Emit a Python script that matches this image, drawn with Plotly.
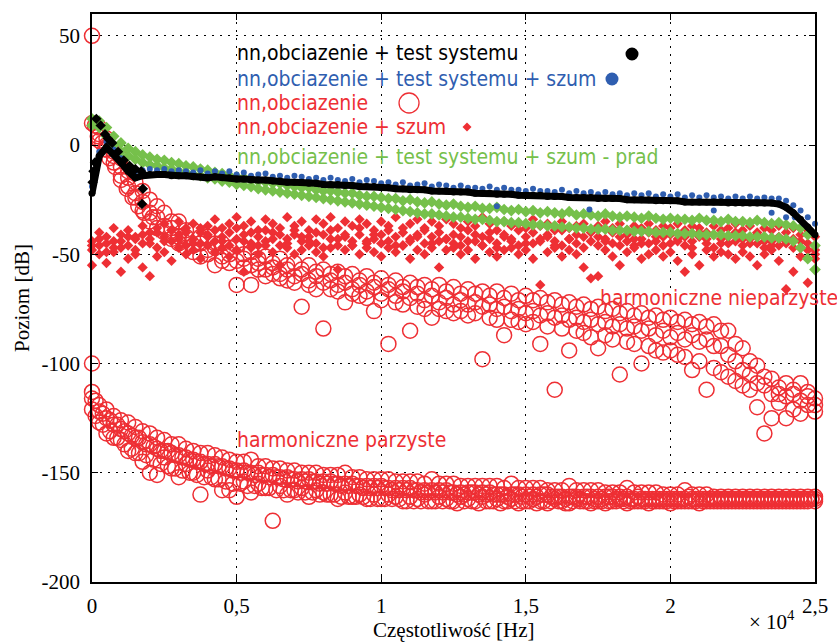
import plotly.graph_objects as go

# Frequency grids of the harmonic analysis (Hz)
FREQ = [i * 250 for i in range(101)]
FREQ_MID = [125 + i * 250 for i in range(100)]

# nn,obciazenie + test systemu (black)
BLACK = [
    -22, -5, -1, -4, -8, -12, -15, -14, -13.5, -13.5,
    -13.5, -14, -14, -14, -14.5, -14.5, -15, -14.5, -15, -15,
    -15.5, -15.5, -16, -16, -16, -16.5, -16.5, -17, -17, -17,
    -17.5, -17.5, -18, -18, -18, -18.5, -18.5, -19, -19, -19,
    -19.5, -19.5, -20, -20, -20.5, -20.5, -20.5, -21, -21, -21,
    -21.5, -21.5, -21.5, -22, -22, -22, -22.5, -22.5, -22.5, -23,
    -23, -23, -23, -23.5, -23.5, -23.5, -24, -24, -24, -24,
    -24.5, -24.5, -24.5, -24.5, -25, -25, -25, -25, -25.5, -25.5,
    -25.5, -25.5, -26, -26, -26, -26, -26, -26, -26.5, -26.5,
    -26.5, -26.5, -26.5, -26.5, -26.5, -27, -28.5, -31, -34, -37.5,
    -41,
]
BLACK_EARLY_F = [20, 50, 100, 150, 300, 450, 550, 700, 900, 1100, 1300, 1500, 1700, 1730, 1760]
BLACK_EARLY = [-17, -12, -8, 12, 9, 5, 3, 1, -3, -7, -9.5, -11, -12, -27, -20]

# nn,obciazenie + test systemu + szum (blue)
BLUE = [
    -19, -3, 1.5, -2, -6, -10, -12, -11.5, -11, -11.5,
    -11, -12, -11.5, -12, -12.5, -11.5, -13, -12, -13, -12,
    -13.5, -12.5, -14, -13.5, -13, -14.5, -14, -15, -14, -14.5,
    -15.5, -15, -16, -15, -16, -16.5, -15.5, -17, -16, -16.5,
    -17.5, -17, -18, -17, -18.5, -18, -17.5, -19, -18, -18.5,
    -19.5, -18.5, -19.5, -19.5, -20, -19, -20.5, -19.5, -20.5, -20.5,
    -21, -20, -21, -21, -21.5, -20.5, -22, -21, -22, -21.5,
    -22.5, -21.5, -22.5, -22, -23, -22, -23, -22, -23.5, -22.5,
    -23.5, -22.5, -24, -23, -24, -23, -24, -23.5, -24.5, -23.5,
    -24.5, -23.5, -24.5, -24, -24.5, -24.5, -25.5, -27.5, -30, -33,
    -36,
]
BLUE_EXTRA_F = [14000, 17200, 21500, 23500, 24000, 24300, 24600]
BLUE_EXTRA = [-28, -29.5, -30, -31, -33, -33, -36]

# nn,obciazenie + test systemu + szum - prad (green), upper and lower edge of the band
GREEN_HI = [
    12, 11, 8, 4, 1, -1.5, -3, -4.5, -5.5, -6.5,
    -7, -8, -8.5, -9.5, -10, -11, -11.5, -12.5, -13, -14,
    -14.5, -15, -16, -16.5, -17, -17.5, -17.5, -18.5, -19, -19.5,
    -19.5, -20.5, -21, -21, -21.5, -22, -22, -23, -23.5, -23.5,
    -24, -24.5, -24.5, -25.5, -25, -26, -26.5, -26, -27, -27.5,
    -27, -28, -28.5, -28, -29, -29, -28.5, -29.5, -30, -29.5,
    -30.5, -30, -31, -30.5, -31, -31.5, -30.5, -32, -31.5, -32,
    -32.5, -31.5, -32.5, -33, -32.5, -33, -33.5, -32.5, -33.5, -34,
    -33.5, -34, -34, -34.5, -33.5, -34.5, -34.5, -35, -34, -35,
    -35, -35.5, -34.5, -35.5, -36, -35.5, -36.5, -37, -38, -41,
    -46,
]
GREEN_LO = [
    9, 8, 4, 0, -3, -5, -6.5, -8, -9, -9.5,
    -10.5, -11, -12, -12.5, -13.5, -14, -15, -15.5, -16.5, -17,
    -18, -18.5, -19, -20, -20.5, -21, -21.5, -22, -22.5, -23,
    -23.5, -24, -24.5, -25, -25.5, -26, -26.5, -27, -27.5, -28,
    -28.5, -29, -29.5, -30, -30.5, -31, -31.5, -31.5, -32, -32.5,
    -33, -33, -33.5, -34, -34, -34.5, -35, -35, -35.5, -35.5,
    -36, -36.5, -36.5, -37, -37, -37.5, -37.5, -38, -38, -38.5,
    -38.5, -38.5, -39, -39, -39, -39.5, -39.5, -39.5, -40, -40,
    -40, -40.5, -40.5, -40.5, -41, -41, -41, -41, -41.5, -41.5,
    -41.5, -42, -42, -42, -42.5, -42.5, -43, -44, -47, -52,
    -57,
]

# nn,obciazenie + szum (red diamonds), four layers of the scatter cloud
SZUM_A = [
    -44, -40, -42, -38, -41, -39, -43, -37, -40, -38,
    -36, -39, -35, -38, -36, -40, -37, -34, -38, -36,
    -33, -37, -35, -39, -34, -36, -38, -33, -37, -35,
    -39, -34, -36, -33, -38, -35, -37, -34, -36, -39,
    -35, -37, -33, -38, -36, -34, -39, -35, -37, -34,
    -36, -38, -35, -37, -33, -36, -39, -35, -37, -36,
    -38, -34, -37, -36, -39, -35, -38, -37, -36, -39,
    -37, -35, -38, -36, -39, -37, -38, -36, -39, -37,
    -38, -36, -39, -37, -38, -40, -37, -39, -38, -36,
    -39, -37, -40, -38, -39, -37, -40, -38, -41, -39,
    -42,
]
SZUM_B = [
    -48, -46, -45, -47, -44, -46, -42, -45, -43, -47,
    -42, -44, -41, -46, -43, -45, -41, -44, -42, -46,
    -43, -41, -45, -42, -44, -40, -46, -43, -41, -44,
    -42, -45, -41, -43, -46, -42, -44, -41, -45, -43,
    -41, -44, -42, -46, -43, -41, -45, -42, -44, -43,
    -45, -42, -44, -41, -46, -43, -45, -42, -44, -46,
    -42, -45, -43, -41, -44, -46, -43, -45, -42, -44,
    -46, -43, -45, -42, -44, -46, -43, -45, -44, -42,
    -45, -43, -46, -44, -42, -45, -47, -43, -45, -44,
    -46, -43, -45, -47, -44, -46, -45, -43, -47, -45,
    -48,
]
SZUM_C = [
    -55, -50, -54, -49, -58, -52, -50, -56, -60, -51,
    -49, -53, -47, -50, -48, -52, -46, -49, -47, -51,
    -48, -58, -47, -50, -46, -49, -55, -47, -50, -48,
    -46, -49, -51, -47, -57, -48, -46, -50, -47, -49,
    -51, -47, -49, -46, -52, -48, -50, -47, -56, -48,
    -47, -50, -48, -52, -46, -49, -51, -48, -47, -50,
    -48, -52, -64, -49, -47, -51, -48, -50, -56, -61,
    -60, -48, -51, -55, -49, -47, -52, -50, -48, -51,
    -49, -53, -58, -50, -55, -48, -51, -49, -50, -52,
    -49, -51, -55, -50, -48, -53, -66, -58, -51, -63,
    -50,
]
SZUM_D = [
    -46, -43, -49, -44, -47, -42, -48, -41, -45, -40,
    -44, -39, -43, -40, -45, -38, -42, -39, -44, -40,
    -38, -44, -40, -46, -39, -43, -41, -45, -39, -42,
    -44, -40, -47, -39, -43, -41, -46, -38, -44, -41,
    -45, -39, -46, -40, -44, -42, -38, -45, -40, -43,
    -41, -46, -39, -44, -42, -40, -47, -41, -43, -39,
    -45, -40, -44, -42, -46, -39, -43, -41, -47, -40,
    -42, -44, -40, -46, -41, -43, -45, -40, -42, -46,
    -41, -44, -42, -47, -40, -43, -41, -45, -42, -40,
    -43, -45, -41, -44, -46, -42, -44, -47, -44, -48,
    -52,
]

# nn,obciazenie (red open circles): odd harmonics, three layers
ODD_MAIN = [
    50, 8, 3, -3, -6, -12, -17, -21, -25, -28,
    -31, -35, -35, -39, -39, -42, -42, -45, -45, -47,
    -46, -50, -49, -52, -51, -54, -52, -55, -54, -57,
    -55, -58, -57, -59, -58, -60, -59, -62, -60, -63,
    -61, -64, -62, -65, -63, -65, -64, -66, -64, -67,
    -65, -68, -66, -68, -67, -69, -67, -70, -68, -71,
    -69, -71, -70, -72, -71, -73, -72, -74, -73, -75,
    -74, -76, -75, -77, -76, -78, -77, -79, -78, -80,
    -79, -81, -80, -82, -81, -83, -82, -85, -85, -91,
    -93, -99, -101, -106, -107, -111, -109, -112, -109, -113,
    -116,
]
ODD_MID = [
    10, 5, 0, -5, -10, -15, -22, -26, -31, -33,
    -37, -38, -42, -42, -46, -45, -48, -47, -51, -50,
    -53, -52, -55, -54, -57, -56, -59, -57, -60, -59,
    -62, -60, -63, -62, -64, -63, -66, -64, -67, -65,
    -68, -66, -69, -67, -70, -68, -71, -69, -72, -70,
    -73, -71, -73, -72, -74, -73, -75, -74, -76, -75,
    -77, -76, -78, -77, -79, -78, -80, -79, -81, -80,
    -82, -81, -83, -82, -84, -83, -85, -84, -87, -85,
    -88, -86, -89, -87, -90, -89, -92, -92, -96, -99,
    -103, -105, -109, -110, -114, -114, -115, -114, -117, -115,
    -119,
]
ODD_LOW = [
    -100, 2, -2, -8, -14, -19, -24, -30, -35, -38,
    -40, -43, -45, -47, -49, -51, -50, -55, -53, -54,
    -64, -56, -64, -57, -60, -59, -61, -62, -63, -74,
    -64, -66, -84, -66, -67, -72, -68, -69, -70, -76,
    -71, -91, -72, -73, -85, -74, -75, -79, -75, -76,
    -77, -76, -78, -77, -98, -79, -80, -87, -80, -81,
    -82, -81, -91, -83, -112, -84, -94, -85, -86, -88,
    -93, -87, -89, -105, -90, -91, -100, -92, -94, -95,
    -94, -96, -97, -103, -99, -112, -102, -104, -106, -108,
    -110, -112, -120, -132, -125, -118, -125, -121, -123, -119,
    -122,
]
ODD_EARLY_F = [100, 200, 350, 450, 600, 800, 1000, 1200, 1400, 1600, 1800, 2100]
ODD_EARLY = [9, 4, 1, -2, -6, -10, -16, -20, -24, -28, -31, -33]

# nn,obciazenie (red open circles): even harmonics, five layers
EVEN_A = [
    -113, -119, -121, -124, -126, -127, -129, -131, -132, -134,
    -135, -137, -137, -139, -140, -141, -141, -142, -143, -144,
    -145, -145, -144, -147, -147, -148, -148, -149, -149, -150,
    -150, -150, -151, -151, -151, -150, -152, -152, -153, -153,
    -153, -153, -154, -154, -154, -154, -155, -153, -155, -155,
    -155, -156, -156, -156, -156, -156, -156, -157, -155, -157,
    -157, -157, -157, -158, -158, -158, -156, -158, -158, -158,
    -158, -159, -159, -159, -157, -159, -159, -159, -159, -160,
    -160, -160, -158, -160, -160, -160, -161, -161, -161, -161,
    -161, -161, -161, -161, -161, -161, -161, -161, -161, -161,
    -161,
]
EVEN_B = [
    -116, -122, -125, -128, -130, -132, -134, -136, -137, -139,
    -140, -141, -142, -143, -144, -145, -146, -146, -147, -148,
    -149, -149, -150, -150, -151, -151, -152, -152, -153, -153,
    -153, -154, -154, -154, -155, -155, -155, -156, -156, -156,
    -156, -157, -157, -157, -157, -158, -158, -158, -158, -158,
    -159, -159, -159, -159, -159, -159, -160, -160, -160, -160,
    -160, -160, -160, -160, -161, -161, -161, -161, -161, -161,
    -161, -161, -161, -161, -161, -162, -162, -162, -162, -162,
    -162, -162, -162, -162, -162, -162, -162, -162, -162, -162,
    -162, -162, -162, -162, -162, -162, -162, -162, -162, -162,
    -162,
]
EVEN_C = [
    -121, -127, -132, -134, -135, -140, -141, -145, -150, -151,
    -143, -148, -152, -146, -150, -160, -149, -153, -158, -158,
    -161, -154, -159, -155, -157, -172, -156, -160, -158, -157,
    -161, -158, -159, -160, -162, -159, -161, -160, -162, -160,
    -162, -160, -161, -163, -161, -162, -160, -163, -161, -162,
    -163, -161, -162, -163, -161, -163, -162, -163, -162, -164,
    -163, -162, -163, -164, -162, -163, -164, -162, -163, -164,
    -163, -164, -163, -162, -164, -163, -163, -164, -163, -163,
    -164, -163, -163, -163, -164, -163, -163, -163, -163, -163,
    -163, -163, -163, -163, -163, -163, -163, -163, -163, -163,
    -163,
]
EVEN_D = [
    -117, -123, -126, -128, -131, -133, -134, -137, -138, -140,
    -140, -142, -143, -144, -145, -146, -147, -147, -148, -149,
    -150, -150, -151, -151, -152, -152, -153, -153, -154, -154,
    -154, -155, -155, -155, -156, -156, -156, -157, -157, -157,
    -157, -158, -158, -158, -158, -159, -159, -159, -159, -159,
    -160, -160, -159, -160, -160, -160, -160, -161, -160, -161,
    -161, -161, -160, -161, -161, -162, -161, -162, -161, -162,
    -162, -161, -162, -162, -162, -161, -162, -162, -162, -162,
    -162, -162, -161, -162, -162, -162, -162, -162, -162, -162,
    -162, -162, -162, -162, -162, -162, -162, -162, -162, -162,
]
EVEN_E = [
    -124, -128, -131, -134, -137, -139, -141, -142, -144, -146,
    -147, -148, -149, -150, -151, -152, -152, -153, -154, -155,
    -155, -156, -156, -157, -157, -158, -158, -158, -159, -159,
    -159, -160, -160, -160, -161, -161, -161, -161, -162, -162,
    -162, -162, -162, -163, -163, -163, -163, -163, -163, -163,
    -164, -163, -163, -164, -163, -163, -164, -163, -163, -163,
    -163, -164, -163, -163, -163, -164, -163, -163, -163, -163,
    -163, -163, -163, -163, -163, -163, -163, -163, -163, -163,
    -163, -163, -163, -163, -163, -163, -163, -163, -163, -163,
    -163, -163, -163, -163, -163, -163, -163, -163, -163, -162,
]

Y_TICKS = [-200, -150, -100, -50, 0, 50]
Y_TICK_TEXT = ["-200", "-150", "-100", "-50", "0", "50"]
X_TICKS = [0, 5000, 10000, 15000, 20000, 25000]
X_TICK_TEXT = ["0", "0,5", "1", "1,5", "2", "2,5"]

RED = "#ee2f34"
GREEN = "#76c04b"
BLUE_C = "#2f5eb0"
BLACK_C = "#000000"

SANS = "DejaVu Sans Condensed, Liberation Sans Narrow, DejaVu Sans, sans-serif"
SERIF = "Liberation Serif, DejaVu Serif, serif"

fig = go.Figure()

open_circle = dict(symbol="circle-open", size=15, color=RED, line=dict(width=1.5, color=RED))
for xs, ys in [(FREQ, EVEN_A), (FREQ_MID, EVEN_D), (FREQ, EVEN_B),
               (FREQ_MID, EVEN_E), (FREQ, EVEN_C),
               (FREQ, ODD_MAIN), (FREQ, ODD_MID), (FREQ, ODD_LOW),
               (ODD_EARLY_F, ODD_EARLY)]:
    fig.add_trace(go.Scatter(x=xs, y=ys, mode="markers", marker=open_circle,
                             cliponaxis=False, showlegend=False, hoverinfo="skip"))

red_diamond = dict(symbol="diamond", size=8, color=RED, line=dict(width=0))
for ys in (SZUM_A, SZUM_B, SZUM_C, SZUM_D):
    fig.add_trace(go.Scatter(x=FREQ, y=ys, mode="markers", marker=red_diamond,
                             cliponaxis=False, showlegend=False, hoverinfo="skip"))

green_diamond = dict(symbol="diamond", size=9, color=GREEN, line=dict(width=0))
fig.add_trace(go.Scatter(x=FREQ, y=GREEN_HI, mode="markers", marker=green_diamond,
                         line=dict(width=0), cliponaxis=False, showlegend=False,
                         hoverinfo="skip"))
fig.add_trace(go.Scatter(x=FREQ, y=GREEN_LO, mode="markers", marker=green_diamond,
                         line=dict(width=0), fill="tonexty", fillcolor=GREEN,
                         cliponaxis=False, showlegend=False, hoverinfo="skip"))

blue_dot = dict(symbol="circle", size=6, color=BLUE_C, line=dict(width=0))
fig.add_trace(go.Scatter(x=FREQ, y=BLUE, mode="markers", marker=blue_dot,
                         cliponaxis=False, showlegend=False, hoverinfo="skip"))
fig.add_trace(go.Scatter(x=BLUE_EXTRA_F, y=BLUE_EXTRA, mode="markers", marker=blue_dot,
                         cliponaxis=False, showlegend=False, hoverinfo="skip"))

fig.add_trace(go.Scatter(x=FREQ, y=BLACK, mode="lines+markers",
                         line=dict(color=BLACK_C, width=7),
                         marker=dict(symbol="circle", size=7, color=BLACK_C),
                         cliponaxis=False, showlegend=False, hoverinfo="skip"))
fig.add_trace(go.Scatter(x=BLACK_EARLY_F, y=BLACK_EARLY, mode="markers",
                         marker=dict(symbol="diamond", size=8, color=BLACK_C),
                         cliponaxis=False, showlegend=False, hoverinfo="skip"))

axis_common = dict(
    showline=True, linecolor="black", linewidth=1.5, mirror="ticks",
    ticks="inside", ticklen=6, tickwidth=1.2, tickcolor="black",
    showgrid=True, gridcolor="black", gridwidth=1.3, griddash="2px,6px",
    zeroline=False, automargin=False,
    tickfont=dict(family=SERIF, size=21, color="black"),
)
fig.update_xaxes(range=[0, 25000], tickvals=X_TICKS, ticktext=X_TICK_TEXT,
                 ticklabelstandoff=4, **axis_common)
fig.update_yaxes(range=[-200, 60], tickvals=Y_TICKS, ticktext=Y_TICK_TEXT,
                 ticklabelstandoff=6, **axis_common)

# Legend rows drawn as coloured text with the symbol placed after it
legend_rows = [
    ("nn,obciazenie + test systemu", BLACK_C, 0.9313),
    ("nn,obciazenie + test systemu + szum", BLUE_C, 0.8856),
    ("nn,obciazenie", RED, 0.8433),
    ("nn,obciazenie + szum", RED, 0.8011),
    ("nn,obciazenie + test systemu + szum - prad", GREEN, 0.7482),
]
annotations = []
for text, color, y in legend_rows:
    annotations.append(dict(text=text, xref="paper", yref="paper", x=0.1978, y=y,
                            xanchor="left", yanchor="middle", showarrow=False,
                            font=dict(family=SANS, size=21, color=color)))
annotations.append(dict(text="harmoniczne nieparzyste", xref="paper", yref="paper",
                        x=0.6999, y=0.5, xanchor="left", yanchor="middle",
                        showarrow=False, font=dict(family=SANS, size=21, color=RED)))
annotations.append(dict(text="harmoniczne parzyste", xref="paper", yref="paper",
                        x=0.1978, y=0.25, xanchor="left", yanchor="middle",
                        showarrow=False, font=dict(family=SANS, size=21, color=RED)))
annotations.append(dict(text="× 10<sup>4</sup>", xref="paper", yref="paper",
                        x=0.975, y=-0.068, xanchor="right", yanchor="middle",
                        showarrow=False, font=dict(family=SERIF, size=21, color="black")))
# Axis titles
annotations.append(dict(text="Częstotliwość [Hz]", xref="paper", yref="paper",
                        x=0.5, y=-0.084, xanchor="center", yanchor="middle",
                        showarrow=False, font=dict(family=SERIF, size=21, color="black")))
annotations.append(dict(text="Poziom [dB]", xref="paper", yref="paper",
                        x=-0.0968, y=0.5, xanchor="center", yanchor="middle",
                        textangle=-90, showarrow=False,
                        font=dict(family=SERIF, size=21, color="black")))

px_shape = dict(xref="paper", yref="paper", xsizemode="pixel", ysizemode="pixel")
shapes = [
    dict(type="circle", xanchor=0.7469, yanchor=0.9296, x0=-6.5, x1=6.5, y0=-6.5, y1=6.5,
         fillcolor=BLACK_C, line=dict(width=0), **px_shape),
    dict(type="circle", xanchor=0.7192, yanchor=0.8856, x0=-6.5, x1=6.5, y0=-6.5, y1=6.5,
         fillcolor=BLUE_C, line=dict(width=0), **px_shape),
    dict(type="circle", xanchor=0.4385, yanchor=0.8433, x0=-10, x1=10, y0=-10, y1=10,
         line=dict(width=1.3, color=RED), **px_shape),
    dict(type="path", xanchor=0.5187, yanchor=0.8011, path="M 0 -4.5 L 4.5 0 L 0 4.5 L -4.5 0 Z",
         fillcolor=RED, line=dict(width=0), **px_shape),
]

fig.update_layout(
    width=837, height=643,
    margin=dict(l=92, r=22, t=14, b=61),
    plot_bgcolor="white", paper_bgcolor="white",
    showlegend=False,
    annotations=annotations,
    shapes=shapes,
)

fig.write_html("out.html")
